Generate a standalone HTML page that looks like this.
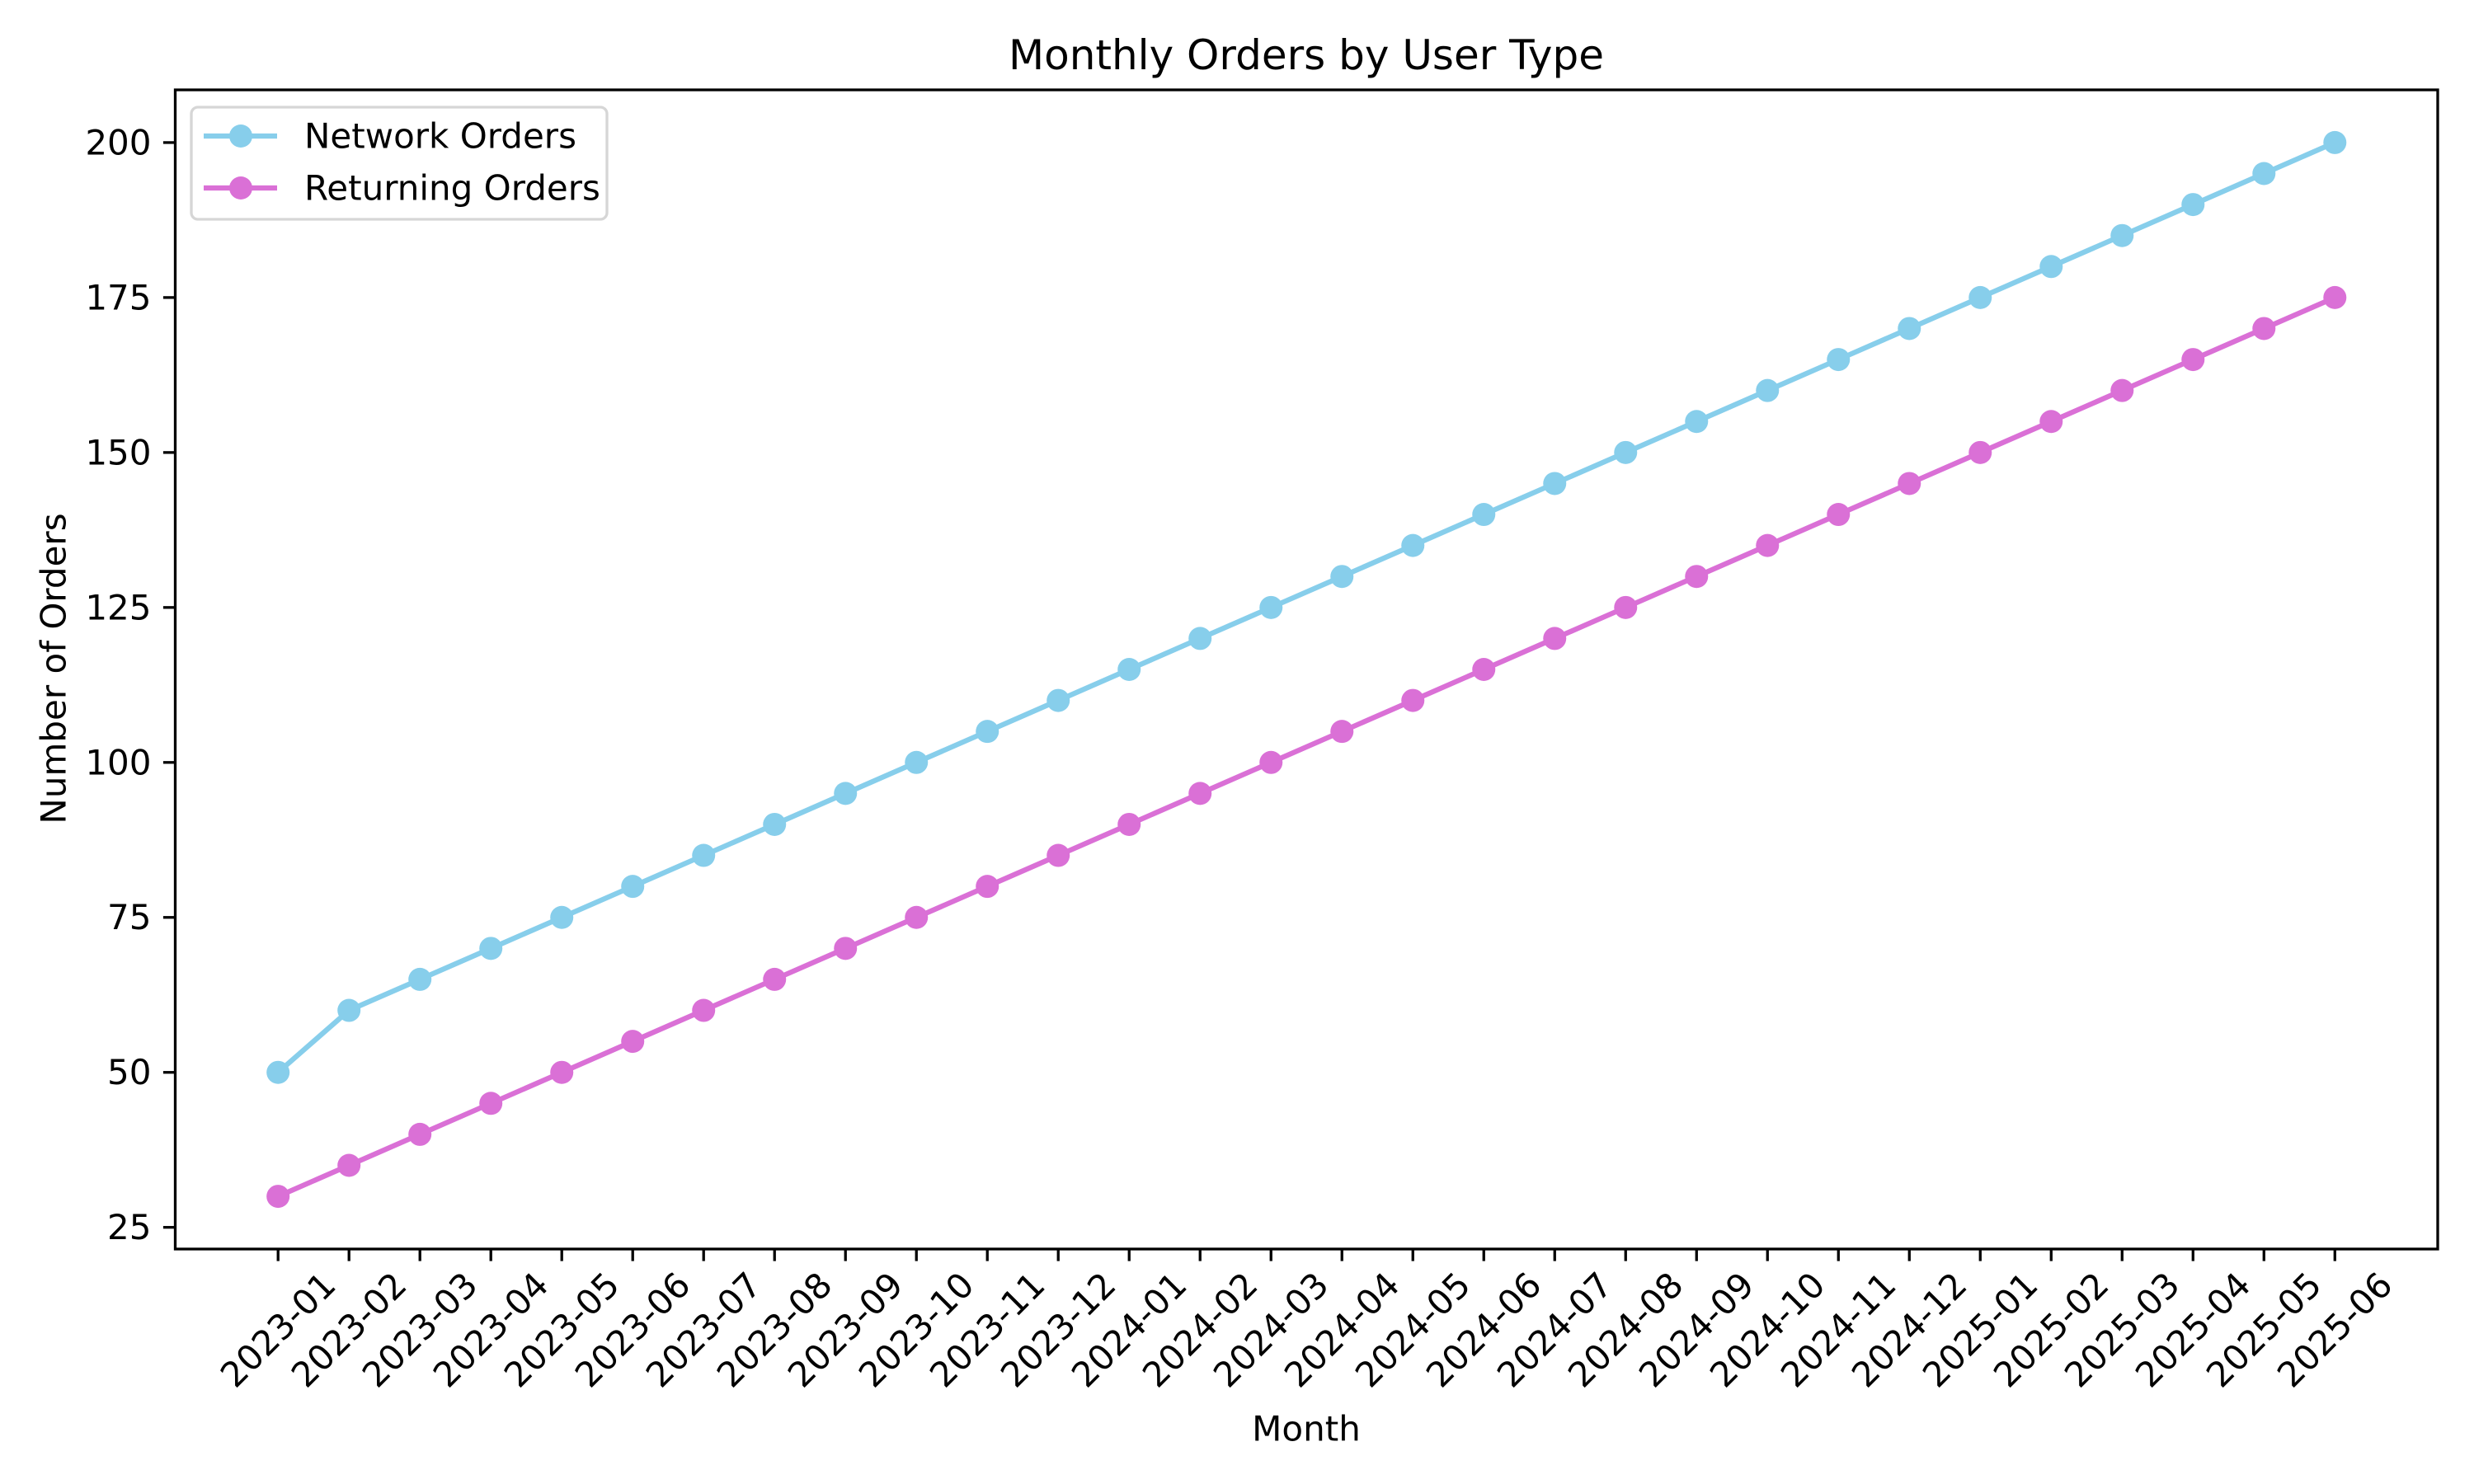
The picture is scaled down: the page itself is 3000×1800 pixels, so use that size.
<!DOCTYPE html>
<html><head><meta charset="utf-8"><style>
html,body{margin:0;padding:0;background:#fff;}
svg{display:block;font-family:"DejaVu Sans","Liberation Sans",sans-serif;}
</style></head><body>
<svg id="chart" xmlns="http://www.w3.org/2000/svg" width="3000" height="1800" viewBox="0 0 3000 1800">
<rect width="3000" height="1800" fill="#fff"/>
<text x="1584" y="67" font-size="50" text-anchor="middle" dominant-baseline="central">Monthly Orders by User Type</text>
<text x="1584" y="1733" font-size="42" text-anchor="middle" dominant-baseline="central">Month</text>
<text x="65" y="811" font-size="42" text-anchor="middle" dominant-baseline="central" transform="rotate(-90 65 811)">Number of Orders</text>
<g id="axes"></g>
<g id="series"></g>
<rect x="212.5" y="109" width="2743.5" height="1406" fill="none" stroke="#000" stroke-width="3.3"/>
<g>
<rect x="232" y="130" width="504" height="136" rx="8" fill="#fff" fill-opacity="0.8" stroke="#d6d6d6" stroke-width="3.3"/>
<g>
<line x1="247" y1="165" x2="336" y2="165" stroke="#87CEEB" stroke-width="6.25"/>
<circle cx="292" cy="165" r="14" fill="#87CEEB"/>
<text x="369" y="165" font-size="42" dominant-baseline="central">Network Orders</text>
</g>
<g>
<line x1="247" y1="228" x2="336" y2="228" stroke="#DA70D6" stroke-width="6.25"/>
<circle cx="292" cy="228" r="14" fill="#DA70D6"/>
<text x="369" y="228" font-size="42" dominant-baseline="central">Returning Orders</text>
</g>
</g>
</svg>
<script>
const months = ["2023-01","2023-02","2023-03","2023-04","2023-05","2023-06","2023-07","2023-08","2023-09","2023-10","2023-11","2023-12","2024-01","2024-02","2024-03","2024-04","2024-05","2024-06","2024-07","2024-08","2024-09","2024-10","2024-11","2024-12","2025-01","2025-02","2025-03","2025-04","2025-05","2025-06"];
const networkOrders = [50,60,65,70,75,80,85,90,95,100,105,110,115,120,125,130,135,140,145,150,155,160,165,170,175,180,185,190,195,200];
const returningOrders = [30,35,40,45,50,55,60,65,70,75,80,85,90,95,100,105,110,115,120,125,130,135,140,145,150,155,160,165,170,175];
const yTicks = [25,50,75,100,125,150,175,200];

const NS = "http://www.w3.org/2000/svg";
const L = 212.5, R = 2956, T = 109, B = 1515;
const all = networkOrders.concat(returningOrders);
const dmin = Math.min(...all), dmax = Math.max(...all);
const ym = (dmax - dmin) * 0.05;
const y0 = dmin - ym, y1 = dmax + ym;
const n = months.length;
const x0 = -(n - 1) * 0.05, x1 = (n - 1) * 1.05;
const xs = i => L + (i - x0) / (x1 - x0) * (R - L);
const ys = v => B - (v - y0) / (y1 - y0) * (B - T);

function mk(tag, attrs, parent) {
  const e = document.createElementNS(NS, tag);
  for (const k in attrs) e.setAttribute(k, attrs[k]);
  parent.appendChild(e);
  return e;
}
const axes = document.getElementById("axes");
yTicks.forEach(v => {
  const y = ys(v);
  const t = mk("line", {x1: L - 14.6, x2: L, y1: y, y2: y, stroke: "#000", "stroke-width": 3.3}, axes);
  
  
  const lb = mk("text", {x: L - 29, y: y, "font-size": 42, "text-anchor": "end", "dominant-baseline": "central"}, axes);
  
  
  lb.textContent = v;
});
months.forEach((m, i) => {
  const x = xs(i);
  const t = mk("line", {x1: x, x2: x, y1: B, y2: B + 14.6, stroke: "#000", "stroke-width": 3.3}, axes);
  
  
  const cy = B + 29 + 69;
  const lb = mk("text", {x: x, y: cy, "font-size": 42, "text-anchor": "middle", "dominant-baseline": "central", transform: "rotate(-45 " + x + " " + cy + ")"}, axes);
  
  
  lb.textContent = m;
});
const series = document.getElementById("series");
function drawSeries(vals, color, name) {
  const g = mk("g", {}, series);
  
  
  const pts = vals.map((v, i) => xs(i) + "," + ys(v)).join(" ");
  const pl = mk("polyline", {points: pts, fill: "none", stroke: color, "stroke-width": 6.25, "stroke-linejoin": "round", "stroke-linecap": "square"}, g);
  
  
  vals.forEach((v, i) => {
    const c = mk("circle", {cx: xs(i), cy: ys(v), r: 14, fill: color}, g);
    
    
  });
}
drawSeries(networkOrders, "#87CEEB", "network-orders-series");
drawSeries(returningOrders, "#DA70D6", "returning-orders-series");
</script>
</body></html>
